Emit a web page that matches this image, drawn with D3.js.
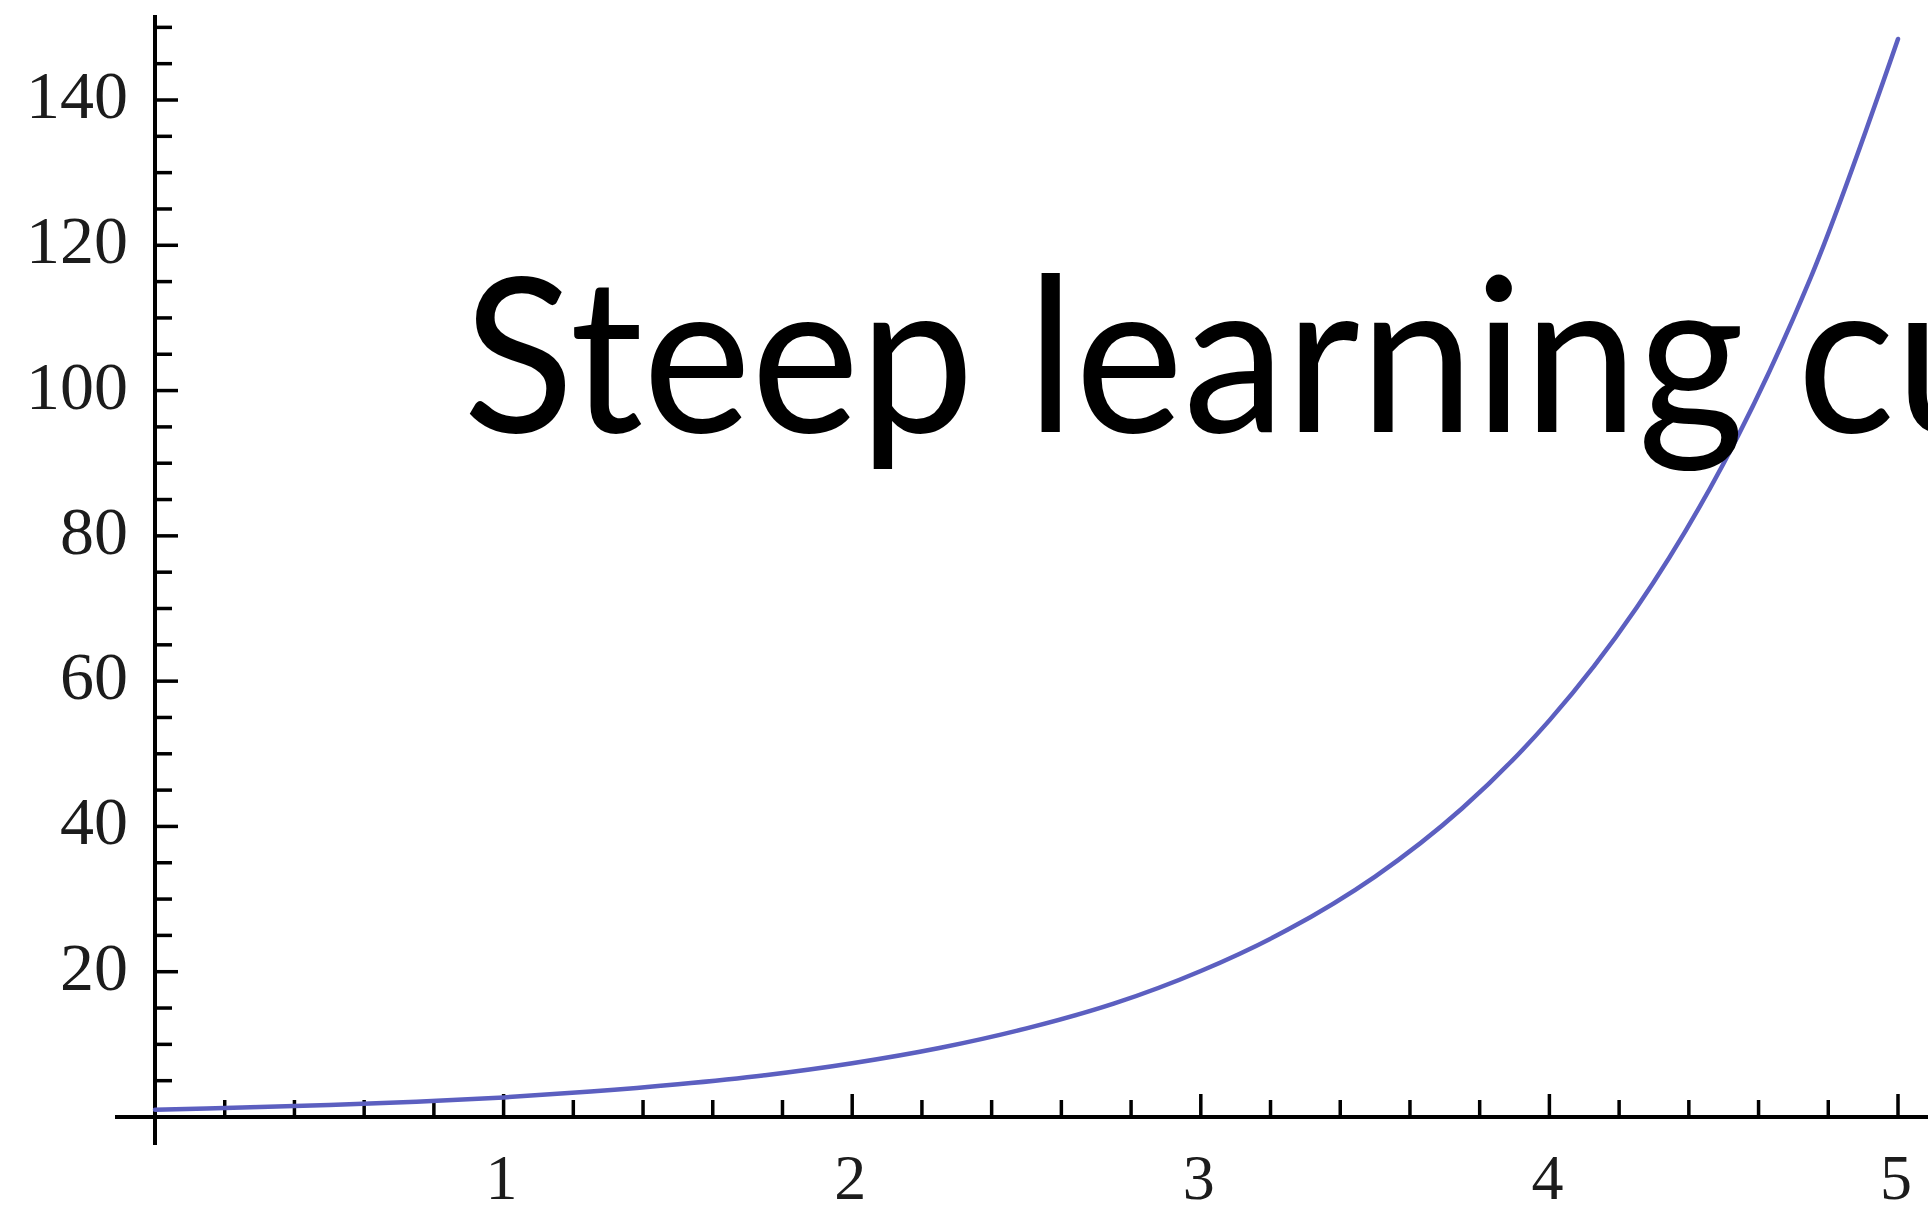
<!DOCTYPE html>
<html><head><meta charset="utf-8">
<script src="https://cdn.jsdelivr.net/npm/d3@7"></script>
<style>html,body{margin:0;padding:0;background:#fff;overflow:hidden}</style>
</head><body>
<svg id="chart" width="1928" height="1213"></svg>
<script>
// Data
const xValues = [0, 0.25, 0.5, 0.75, 1, 1.25, 1.5, 1.75, 2, 2.25, 2.5, 2.75, 3, 3.25, 3.5, 3.75, 4, 4.25, 4.5, 4.75, 5];
const yValues = [1.0, 1.3, 1.65, 2.1, 2.7, 3.5, 4.5, 5.75, 7.4, 9.5, 12.2, 15.6, 20.1, 25.8, 33.1, 42.5, 54.6, 70.1, 90.0, 115.6, 148.4];
const xTickLabels = [1, 2, 3, 4, 5];
const yTickLabels = [20, 40, 60, 80, 100, 120, 140];
const title = "Steep learning curve";

const svg = d3.select("#chart");
const defs = svg.append("defs");
defs.append("filter").attr("id", "soft")
  .attr("x", "-5%").attr("y", "-5%").attr("width", "110%").attr("height", "110%")
  .append("feGaussianBlur").attr("stdDeviation", 0.7);

const x = d3.scaleLinear().domain([0, 5]).range([155, 1898]);
const y = d3.scaleLinear().domain([0, 140]).range([1117, 100]);

const axisColor = "#000";
const g = svg.append("g").attr("filter", "url(#soft)");

// X axis line
g.append("line").attr("x1", 115).attr("x2", 1928)
  .attr("y1", y(0)).attr("y2", y(0))
  .attr("stroke", axisColor).attr("stroke-width", 4);
// Y axis line
g.append("line").attr("x1", x(0)).attr("x2", x(0))
  .attr("y1", 15).attr("y2", 1145)
  .attr("stroke", axisColor).attr("stroke-width", 4);

// X ticks every 0.2
const xMinor = d3.range(1, 26).map(i => i * 0.2);
g.selectAll(".xt").data(xMinor).join("line")
  .attr("x1", d => x(d)).attr("x2", d => x(d))
  .attr("y1", y(0)).attr("y2", d => y(0) - (Math.abs(d - Math.round(d)) < 1e-6 ? 23 : 17))
  .attr("stroke", axisColor).attr("stroke-width", 3.5);

// Y ticks every 5
const yMinor = d3.range(1, 31).map(i => i * 5);
g.selectAll(".yt").data(yMinor).join("line")
  .attr("y1", d => y(d)).attr("y2", d => y(d))
  .attr("x1", x(0)).attr("x2", d => x(0) + (d % 20 === 0 ? 23 : 17))
  .attr("stroke", axisColor).attr("stroke-width", 3.5);

// Tick labels
g.selectAll(".xl").data(xTickLabels).join("text")
  .attr("x", d => x(d) - 2).attr("y", 1199)
  .attr("text-anchor", "middle")
  .attr("font-family", "Liberation Serif, Times New Roman, serif")
  .attr("font-size", 64).attr("fill", "#1a1a1a")
  .text(d => d);
g.selectAll(".yl").data(yTickLabels).join("text")
  .attr("x", 128).attr("y", d => y(d) + 18)
  .attr("text-anchor", "end")
  .attr("font-family", "Liberation Serif, Times New Roman, serif")
  .attr("font-size", 68).attr("fill", "#1a1a1a")
  .text(d => d);

// Curve
const pts = xValues.map((v, i) => [v, yValues[i]]);
const line = d3.line().x(d => x(d[0])).y(d => y(d[1])).curve(d3.curveCatmullRom);
svg.append("path").attr("d", line(pts))
  .attr("fill", "none").attr("stroke", "#5b5fc0").attr("stroke-width", 4.5)
  .attr("stroke-linecap", "round").attr("filter", "url(#soft)");

// Title overlay, sized so that "Steep learning " spans the same width as in the picture
const titleText = svg.append("text")
  .attr("x", 463).attr("y", 432)
  .attr("font-family", "Lato, sans-serif")
  .attr("font-size", 216).attr("fill", "#000")
  .text(title);
const probe = svg.append("text")
  .attr("font-family", "Lato, sans-serif").attr("font-size", 216)
  .attr("opacity", 0).text("Steep learning c");
const probeC = svg.append("text")
  .attr("font-family", "Lato, sans-serif").attr("font-size", 216)
  .attr("opacity", 0).text("c");
const prefixW = probe.node().getComputedTextLength() - probeC.node().getComputedTextLength();
probe.remove(); probeC.remove();
const fullW = titleText.node().getComputedTextLength();
const targetPrefix = 1797 - 463;
titleText.attr("textLength", fullW * targetPrefix / prefixW).attr("lengthAdjust", "spacingAndGlyphs");
</script>
</body></html>
